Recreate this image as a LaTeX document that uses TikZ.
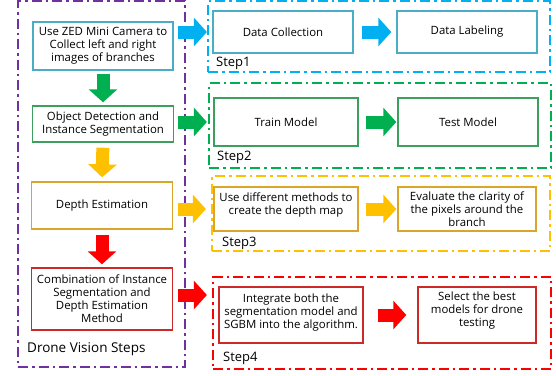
\documentclass[tikz,border=0pt]{standalone}
\usepackage{fontspec}
\setmainfont{Open Sans}
\usetikzlibrary{arrows.meta}

\definecolor{stepblue}{HTML}{00B0F0}
\definecolor{stepgreen}{HTML}{00B050}
\definecolor{stepgold}{HTML}{FFC000}
\definecolor{stepred}{HTML}{FF0000}
\definecolor{visionpurple}{HTML}{7030A0}
\definecolor{boxblue}{HTML}{4BACC6}
\definecolor{boxgreen}{HTML}{3C9F5E}
\definecolor{boxgold}{HTML}{D9A62A}
\definecolor{boxred}{HTML}{CC2929}

\begin{document}
\begin{tikzpicture}[x=1pt,y=-1pt,
    box/.style={draw, line width=1.4pt, fill=white, align=center, inner sep=2pt,
        font=\fontsize{11.4}{13}\selectfont},
    frame/.style={draw, line width=2.2pt, dash pattern=on 10pt off 4pt on 2.5pt off 4pt},
    blockarrow/.style={line width=13pt, -{Triangle[length=13pt,width=28pt]}},
    steplabel/.style={anchor=west, inner sep=0pt, font=\fontsize{13}{15}\selectfont}]

    \useasboundingbox (0,0) rectangle (556,375);

    % left column
    \node[box, draw=boxblue, minimum width=140, minimum height=48] (c1) at (103,46)
        {Use ZED Mini Camera to\\Collect left and right\\images of branches};
    \node[box, draw=boxgreen, minimum width=141, minimum height=36] (c2) at (103,124)
        {Object Detection and\\Instance Segmentation};
    \node[box, draw=boxgold, minimum width=141, minimum height=47] (c3) at (102,205.5)
        {Depth Estimation};
    \node[box, draw=boxred, minimum width=141, minimum height=62] (c4) at (102,299)
        {Combination of Instance\\Segmentation and\\Depth Estimation\\Method};

    % step boxes
    \node[box, draw=boxblue, minimum width=140, minimum height=42] (dc) at (283,32) {Data Collection};
    \node[box, draw=boxblue, minimum width=140, minimum height=42] (dl) at (467,32) {Data Labeling};

    \node[box, draw=boxgreen, minimum width=144, minimum height=48] (tm) at (286,122) {Train Model};
    \node[box, draw=boxgreen, minimum width=140, minimum height=48] (tt) at (468,122) {Test Model};

    \node[box, draw=boxgold, minimum width=144, minimum height=44] (dm) at (286,209)
        {Use different methods to\\create the depth map\\[-2pt]\mbox{}};
    \node[box, draw=boxgold, minimum width=138, minimum height=44] (ev) at (467,209)
        {Evaluate the clarity of\\the pixels around the\\branch};

    \node[box, draw=boxred, minimum width=144, minimum height=56] (ig) at (291,315)
        {Integrate both the\\segmentation model and\\SGBM into the algorithm.\\[-6pt]\mbox{}};
    \node[box, draw=boxred, minimum width=118, minimum height=56] (sb) at (477,315)
        {Select the best\\models for drone\\testing\\[-2pt]\mbox{}};

    % dash-dot frames
    \node[frame, draw=visionpurple, line width=2pt, minimum width=167, minimum height=366] (vision) at (101.5,184) {};
    \node[frame, draw=stepblue, minimum width=342, minimum height=71] (step1) at (379,36.5) {};
    \node[frame, draw=stepgreen, minimum width=342, minimum height=85] (step2) at (380,125.5) {};
    \node[frame, draw=stepgold, minimum width=338, minimum height=75] (step3) at (381,213.5) {};
    \node[frame, draw=stepred, minimum width=338, minimum height=92] (step4) at (382,323) {};

    \coordinate (r4) at (195,295);

    % arrows down the left column
    \draw[blockarrow, stepgreen, shorten <=3pt, shorten >=3pt] (c1.south) -- (c2.north);
    \draw[blockarrow, stepgold, shorten <=5pt, shorten >=4pt] (c2.south) -- (c3.north);
    \draw[blockarrow, stepred, shorten <=5pt, shorten >=3pt] (c3.south) -- (c4.north);

    % arrows into the steps
    \draw[blockarrow, stepblue, shorten <=4pt] (c1.east |- dc) -- (step1.west |- dc);
    \draw[blockarrow, stepgreen, shorten <=4pt, shorten >=1pt] (c2.east |- tm) -- (step2.west |- tm);
    \draw[blockarrow, stepgold, shorten <=5pt, shorten >=5pt] (c3.east |- dm) -- (step3.west |- dm);
    \draw[blockarrow, stepred, shorten <=5pt, shorten >=5pt] (c4.east |- r4) -- (step4.west |- r4);

    % arrows inside the steps
    \draw[blockarrow, stepblue, shorten <=8pt, shorten >=5pt] (dc) -- (dl);
    \draw[blockarrow, stepgreen, shorten <=7pt, shorten >=1pt] (tm) -- (tt);
    \draw[blockarrow, stepgold, shorten <=7pt, shorten >=1pt] (dm) -- (ev);
    \draw[blockarrow, stepred, shorten <=14pt, shorten >=11pt] (ig) -- (sb);

    % frame titles
    \node[steplabel] (t0) at (27,349) {\fontsize{13.5}{15}\selectfont Drone Vision Steps};
    \node[steplabel] (t1) at (216,63) {Step1};
    \node[steplabel] (t2) at (217,157) {Step2};
    \node[steplabel] (t3) at (222,243) {Step3};
    \node[steplabel] (t4) at (223,358) {Step4};
\end{tikzpicture}
\end{document}
